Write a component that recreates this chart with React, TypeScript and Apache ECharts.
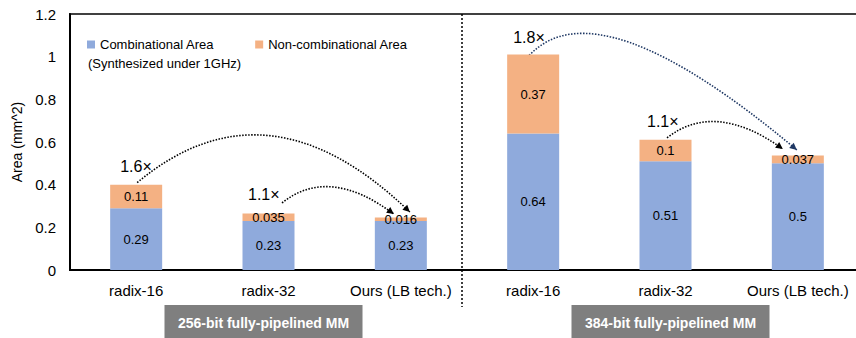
import React, { useEffect, useRef } from "react";
import * as echarts from "echarts";

const categories = ["radix-16", "radix-32", "Ours (LB tech.)", "radix-16", "radix-32", "Ours (LB tech.)"];
const combinationalArea = [0.29, 0.23, 0.23, 0.64, 0.51, 0.5];
const nonCombinationalArea = [0.11, 0.035, 0.016, 0.37, 0.1, 0.037];
const groupLabels = ["256-bit fully-pipelined MM", "384-bit fully-pipelined MM"];
const groupCenterIndex = [1, 4];
const yTicks = { min: 0, max: 1.2, interval: 0.2 };
const ratioLabels = ["1.6×", "1.1×", "1.8×", "1.1×"];
const arrowFrom = [0, 1, 3, 4];
const arrowTo = [2, 2, 5, 5];

// pixel styling of the annotation arrows (offsets, not data)
const arrowStyle = [
  { s: [1, -2], e: [9, -5.5], c: [130, -108.5], l: [-17, -16], color: "#000000" },
  { s: [13.5, -10.5], e: [-7, -3.5], c: [46.5, -37.5], l: [-34, -8], color: "#000000" },
  { s: [-4, 1], e: [-1, -5.5], c: [68, -73], l: [-16, -18], color: "#1F3864" },
  { s: [1.5, -2], e: [-15, -6.5], c: [48, -37.5], l: [-20, -16], color: "#000000" },
];

const FONT = "'Liberation Sans', Arial, sans-serif";

export default function App() {
  const ref = useRef<HTMLDivElement>(null);
  useEffect(() => {
    if (!ref.current) return;
    const chart = echarts.init(ref.current, undefined, { renderer: "svg" });
    const totals = combinationalArea.map((v, i) => v + nonCombinationalArea[i]);
    chart.setOption({
      animation: false,
      textStyle: { fontFamily: FONT },
      grid: {
        left: 70,
        top: 14,
        width: 794,
        height: 256,
        show: true,
        borderColor: "#404040",
        borderWidth: 2,
        outerBoundsMode: "none",
        containLabel: false,
      },
      legend: {
        left: 82,
        top: 33,
        icon: "rect",
        itemWidth: 8,
        itemHeight: 8,
        itemGap: 41,
        textStyle: { fontSize: 13, color: "#000", fontFamily: FONT },
        data: ["Combinational Area", "Non-combinational Area"],
      },
      xAxis: {
        type: "category",
        data: categories,
        axisLine: { lineStyle: { color: "#000", width: 2 } },
        axisTick: { show: false },
        axisLabel: { fontSize: 15, color: "#000", margin: 13, interval: 0, fontFamily: FONT },
      },
      yAxis: {
        type: "value",
        min: yTicks.min,
        max: yTicks.max,
        interval: yTicks.interval,
        name: "Area (mm^2)",
        nameLocation: "middle",
        nameGap: 43,
        nameTextStyle: { fontSize: 14, color: "#000", fontFamily: FONT },
        axisLine: { show: true, lineStyle: { color: "#000", width: 2 } },
        axisTick: { show: false },
        splitLine: { show: false },
        axisLabel: { fontSize: 15, color: "#000", margin: 14, fontFamily: FONT },
      },
      series: [
        {
          name: "Combinational Area",
          type: "bar",
          stack: "area",
          barWidth: 52,
          data: combinationalArea,
          itemStyle: { color: "#8FAADC" },
          label: { show: true, position: "inside", fontSize: 13, color: "#000", fontFamily: FONT },
        },
        {
          name: "Non-combinational Area",
          type: "bar",
          stack: "area",
          barWidth: 52,
          data: nonCombinationalArea,
          itemStyle: { color: "#F4B183" },
          label: { show: true, position: "inside", fontSize: 13, color: "#000", fontFamily: FONT },
        },
      ],
    });

    const px = (i: number, v: number) =>
      chart.convertToPixel({ xAxisIndex: 0, yAxisIndex: 0 }, [i, v]) as number[];

    const graphics: any[] = [];
    graphics.push({
      type: "text",
      left: 88,
      top: 57,
      style: { text: "(Synthesized under 1GHz)", fontSize: 13, fill: "#000", fontFamily: FONT },
    });

    // divider between the two groups
    const p2 = px(2, 0);
    const p3 = px(3, 0);
    const divX = (p2[0] + p3[0]) / 2 - 5;
    graphics.push({
      type: "line",
      shape: { x1: divX, y1: 14, x2: divX, y2: 307 },
      style: { stroke: "#000", lineWidth: 1.5, lineDash: [2, 2] },
    });

    // group boxes
    groupLabels.forEach((g, k) => {
      const c = px(groupCenterIndex[k], 0);
      const w = 198;
      const cx = c[0] + (k === 0 ? -5 : 5);
      graphics.push({
        type: "rect",
        shape: { x: cx - w / 2, y: 305, width: w, height: 36 },
        style: { fill: "#7F7F7F" },
      });
      graphics.push({
        type: "text",
        x: cx,
        y: 323,
        style: {
          text: g,
          fill: "#fff",
          fontSize: 14,
          fontWeight: "bold",
          fontFamily: FONT,
          align: "center",
          verticalAlign: "middle",
        },
      });
    });

    // arrows
    arrowFrom.forEach((fi, k) => {
      const ti = arrowTo[k];
      const st = arrowStyle[k];
      const a = px(fi, totals[fi]);
      const b = px(ti, totals[ti]);
      const S = [a[0] + st.s[0], a[1] + st.s[1]];
      const E = [b[0] + st.e[0], b[1] + st.e[1]];
      const C = [S[0] + st.c[0], S[1] + st.c[1]];
      graphics.push({
        type: "bezierCurve",
        shape: { x1: S[0], y1: S[1], x2: E[0], y2: E[1], cpx1: C[0], cpy1: C[1] },
        style: { stroke: st.color, lineWidth: 1.6, lineDash: [1.5, 1.5], fill: "none" },
      });
      const dx = E[0] - C[0];
      const dy = E[1] - C[1];
      const len = Math.hypot(dx, dy);
      const ux = dx / len;
      const uy = dy / len;
      const L = 7;
      const W = 3.5;
      const bx = E[0] - ux * L;
      const by = E[1] - uy * L;
      graphics.push({
        type: "polygon",
        shape: {
          points: [
            [E[0], E[1]],
            [bx - uy * W, by + ux * W],
            [bx + uy * W, by - ux * W],
          ],
        },
        style: { fill: st.color },
      });
      graphics.push({
        type: "text",
        x: S[0] + st.l[0],
        y: S[1] + st.l[1],
        style: {
          text: ratioLabels[k],
          fontSize: 16,
          fill: "#000",
          fontFamily: FONT,
          align: "left",
          verticalAlign: "middle",
        },
      });
    });

    chart.setOption({ graphic: graphics });
    return () => chart.dispose();
  }, []);

  return (
    <div
      ref={ref}
      style={{ position: "fixed", left: 0, top: 0, width: 856, height: 338, background: "#fff" }}
    />
  );
}
